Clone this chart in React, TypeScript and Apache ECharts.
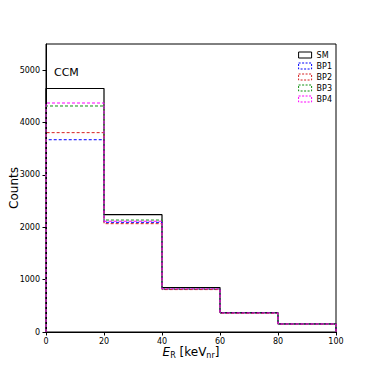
import React, { useEffect, useRef } from "react";
import * as echarts from "echarts";

const binEdges = [0, 20, 40, 60, 80, 100];
const seriesNames = ["SM", "BP1", "BP2", "BP3", "BP4"];
const smCounts = [4650, 2240, 849, 372, 155];
const bp1Counts = [3672, 2094, 815, 360, 152];
const bp2Counts = [3807, 2069, 810, 358, 151];
const bp3Counts = [4316, 2138, 822, 362, 152];
const bp4Counts = [4373, 2115, 825, 364, 153];
const yTicks = [0, 1000, 2000, 3000, 4000, 5000];
const xTicks = [0, 20, 40, 60, 80, 100];

const colors = ["#000000", "#0000ff", "#d62020", "#109010", "#ff00ff"];
const allCounts = [smCounts, bp1Counts, bp2Counts, bp3Counts, bp4Counts];

function stepData(counts: number[]) {
  const pts: number[][] = [[binEdges[0], 0]];
  counts.forEach((c, i) => pts.push([binEdges[i], c]));
  pts.push([binEdges[binEdges.length - 1], counts[counts.length - 1]]);
  pts.push([binEdges[binEdges.length - 1], 0]);
  return pts;
}

export default function App() {
  const ref = useRef<HTMLDivElement>(null);
  useEffect(() => {
    const chart = echarts.init(ref.current!, undefined, { renderer: "svg" });
    const font = "DejaVu Sans";
    chart.setOption({
      animation: false,
      backgroundColor: "#ffffff",
      textStyle: { fontFamily: font },
      grid: {
        left: 46,
        right: 38,
        top: 44,
        bottom: 42,
        containLabel: false,
        outerBoundsMode: "none",
        show: true,
        borderColor: "#000",
        borderWidth: 1,
        backgroundColor: "transparent",
      },
      title: {
        text: "CCM",
        left: 49,
        top: 62,
        textStyle: { fontFamily: font, fontSize: 11, fontWeight: "normal", color: "#000" },
      },
      legend: {
        right: 37,
        top: 46,
        orient: "vertical",
        itemGap: 3,
        itemWidth: 13,
        itemHeight: 6,
        icon: "rect",
        textStyle: { fontFamily: font, fontSize: 8, color: "#000" },
        data: seriesNames.map((n, i) => ({
          name: n,
          itemStyle: {
            color: "transparent",
            borderColor: colors[i],
            borderWidth: 1,
            borderType: i === 0 ? "solid" : [2, 1.5],
          },
        })),
      },
      xAxis: {
        type: "value",
        min: 0,
        max: 100,
        interval: 20,
        name: "{it|E}{sub|R} [keV{sub|nr}]",
        nameLocation: "middle",
        nameGap: 13,
        nameMoveOverlap: false,
        nameTextStyle: {
          fontFamily: font,
          fontSize: 12,
          color: "#000",
          rich: {
            it: { fontStyle: "italic", fontSize: 12, fontFamily: font, color: "#000" },
            sub: { fontSize: 8, fontFamily: font, color: "#000", verticalAlign: "bottom", padding: [6, 0, 0, 0] },
          },
        },
        axisLine: { lineStyle: { color: "#000", width: 1 } },
        axisTick: { show: true, length: 3.5, inside: false, lineStyle: { color: "#000" } },
        axisLabel: {
          fontFamily: font,
          fontSize: 8,
          color: "#000",
          margin: 5,
          customValues: xTicks,
          formatter: (v: number) => String(v),
        },
        splitLine: { show: false },
      },
      yAxis: {
        type: "value",
        min: 0,
        max: 5500,
        interval: 1000,
        name: "Counts",
        nameLocation: "middle",
        nameGap: 26,
        nameMoveOverlap: false,
        nameTextStyle: { fontFamily: font, fontSize: 12, color: "#000" },
        axisLine: { show: true, lineStyle: { color: "#000", width: 1 } },
        axisTick: { show: true, length: 3.5, customValues: yTicks, lineStyle: { color: "#000" } },
        axisLabel: {
          fontFamily: font,
          fontSize: 8,
          color: "#000",
          margin: 6,
          customValues: yTicks,
          formatter: (v: number) => String(v),
        },
        splitLine: { show: false },
      },
      series: seriesNames.map((n, i) => ({
        name: n,
        type: "line",
        step: "end",
        symbol: "none",
        data: stepData(allCounts[i]),
        lineStyle: {
          color: colors[i],
          width: i === 0 ? 1.2 : 1,
          type: i === 0 ? "solid" : [3, 2],
        },
        itemStyle: { color: colors[i] },
        z: 2 + i,
      })),
    });
    return () => chart.dispose();
  }, []);
  return (
    <div
      ref={ref}
      style={{ width: 374, height: 374, position: "fixed", left: 0, top: 0 }}
    />
  );
}
